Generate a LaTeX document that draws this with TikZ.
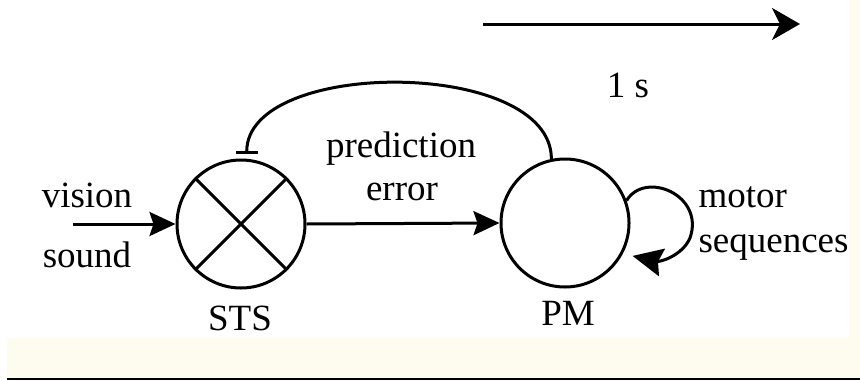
\documentclass[tikz,border=0pt]{standalone}
\usepackage{fontspec}
\setmainfont{Liberation Serif}
\usepackage{xcolor}
\usetikzlibrary{arrows.meta}
\definecolor{crema}{RGB}{254,252,238}

\begin{document}
\begin{tikzpicture}[x=0.5pt,y=-0.5pt, line width=1.5pt,
  flecha/.style={-{Stealth[length=13pt,width=12pt,inset=2pt]}},
  inhibe/.style={-{Bar[width=11pt]}, shorten >=2.5pt},
  area/.style={draw, circle, minimum size=64pt, inner sep=0pt},
  texto/.style={font=\fontsize{18.5}{22}\selectfont, inner sep=0pt, anchor=base}]
  \useasboundingbox (0,0) rectangle (860,380);

  % Fondo de la figura
  \fill[crema] (849,0) rectangle (860,338);
  \fill[crema] (7,338) rectangle (860,378);
  \fill[black] (7,378) rectangle (860,380);

  % Escala de tiempo
  \coordinate (t0) at (483,24);
  \coordinate (t1) at (800,24);
  \draw[-{Stealth[length=14pt,width=16pt,inset=4pt]}] (t0) -- (t1);
  \node[texto] (seg) at (628,97) {1 s};

  % Areas STS y PM
  \node[area] (sts) at (241,224) {};
  \draw (sts.45) -- (sts.225);
  \draw (sts.135) -- (sts.-45);
  \node[area] (pm) at (565,223) {};

  \node[texto] (ests) at (240,330) {STS};
  \node[texto] (epm) at (568,325) {PM};

  % Entrada sensorial
  \coordinate (ent) at (73,224);
  \draw[flecha] (ent) -- (sts.west);
  \node[texto] (vis) at (87,207) {vision};
  \node[texto] (son) at (87,267) {sound};

  % Error de prediccion
  \draw[flecha] (sts.east) -- (pm.west);
  \node[texto] (pred) at (401,157) {prediction};
  \node[texto] (err) at (402,200) {error};

  % Retroalimentacion inhibitoria
  \draw[inhibe] (pm.102) to[out=90,in=90,looseness=0.85] (sts.85);

  % Secuencias motoras
  \draw[-{Stealth[length=15pt,width=14pt,inset=2pt]}, shorten >=5pt] (pm.20)
    .. controls (645,170) and (705,195) .. (690,238)
    .. controls (682,256) and (660,262) .. (pm.-28);
  \node[texto, anchor=base west] (mot) at (697,207) {motor};
  \node[texto, anchor=base west] (sec) at (697,252) {sequences};
\end{tikzpicture}
\end{document}
